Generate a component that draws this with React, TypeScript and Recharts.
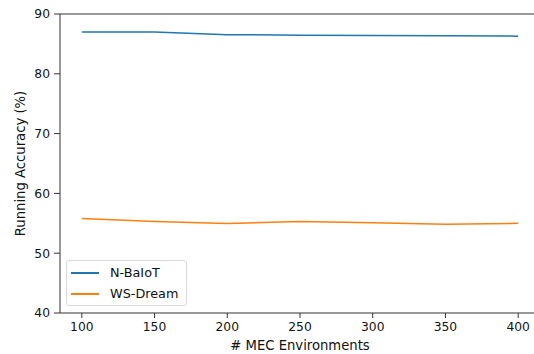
import { LineChart, Line, XAxis, YAxis, ReferenceLine } from "recharts"

const environments = [100, 150, 200, 250, 300, 350, 400]
const nBaiot = [87.0, 87.0, 86.55, 86.45, 86.4, 86.35, 86.3]
const wsDream = [55.8, 55.3, 54.95, 55.3, 55.1, 54.85, 55.0]
const xTicks = [100, 150, 200, 250, 300, 350, 400]
const yTicks = [40, 50, 60, 70, 80, 90]

const data = environments.map((env, i) => ({
  env,
  nBaiot: nBaiot[i],
  wsDream: wsDream[i],
}))

const FONT = "DejaVu Sans, sans-serif"
const AXIS = "#333"

const legendItems = [
  { name: "N-BaIoT", color: "#1f77b4" },
  { name: "WS-Dream", color: "#ff7f0e" },
]

// matplotlib-style legend box, placed over the lower left of the plot
function LegendBox() {
  return (
    <div
      style={{
        position: "absolute",
        left: 66,
        top: 260,
        width: 121,
        height: 46,
        border: "1px solid #d9d9d9",
        borderRadius: 3,
        background: "rgba(255,255,255,0.8)",
        boxSizing: "border-box",
        paddingTop: 1,
        fontFamily: FONT,
        fontSize: 12.8,
        color: "#111",
      }}
    >
      {legendItems.map((it) => (
        <div key={it.name} style={{ display: "flex", alignItems: "center", height: 21 }}>
          <span style={{ display: "inline-block", width: 28, height: 2, background: it.color, marginLeft: 4, marginRight: 11 }} />
          <span>{it.name}</span>
        </div>
      ))}
    </div>
  )
}

export default function App() {
  return (
    <div style={{ position: "absolute", left: 0, top: 0, width: 534, height: 354, overflow: "hidden", background: "#fff" }}>
      <LineChart
        width={548}
        height={354}
        data={data}
        margin={{ top: 14, right: 8, left: 0, bottom: 0 }}
        style={{ fontFamily: FONT }}
      >
        <XAxis
          dataKey="env"
          type="number"
          domain={[85, 415]}
          ticks={xTicks}
          height={41}
          tickSize={5}
          tickMargin={4}
          stroke={AXIS}
          tick={{ fill: "#111", fontSize: 12.3 }}
          label={{ value: "# MEC Environments", position: "insideBottom", offset: 4, fill: "#111", fontSize: 13.2 }}
        />
        <YAxis
          type="number"
          domain={[40, 90]}
          ticks={yTicks}
          width={60}
          tickSize={6}
          tickMargin={4}
          stroke={AXIS}
          tick={{ fill: "#111", fontSize: 12.3 }}
          label={{ value: "Running Accuracy (%)", angle: -90, position: "insideLeft", offset: 20, fill: "#111", fontSize: 13.2, style: { textAnchor: "middle" } }}
        />
        <ReferenceLine y={90} stroke={AXIS} />
        <Line type="linear" dataKey="nBaiot" name="N-BaIoT" stroke="#1f77b4" strokeWidth={1.5} dot={false} isAnimationActive={false} />
        <Line type="linear" dataKey="wsDream" name="WS-Dream" stroke="#ff7f0e" strokeWidth={1.5} dot={false} isAnimationActive={false} />
      </LineChart>
      <LegendBox />
    </div>
  )
}
